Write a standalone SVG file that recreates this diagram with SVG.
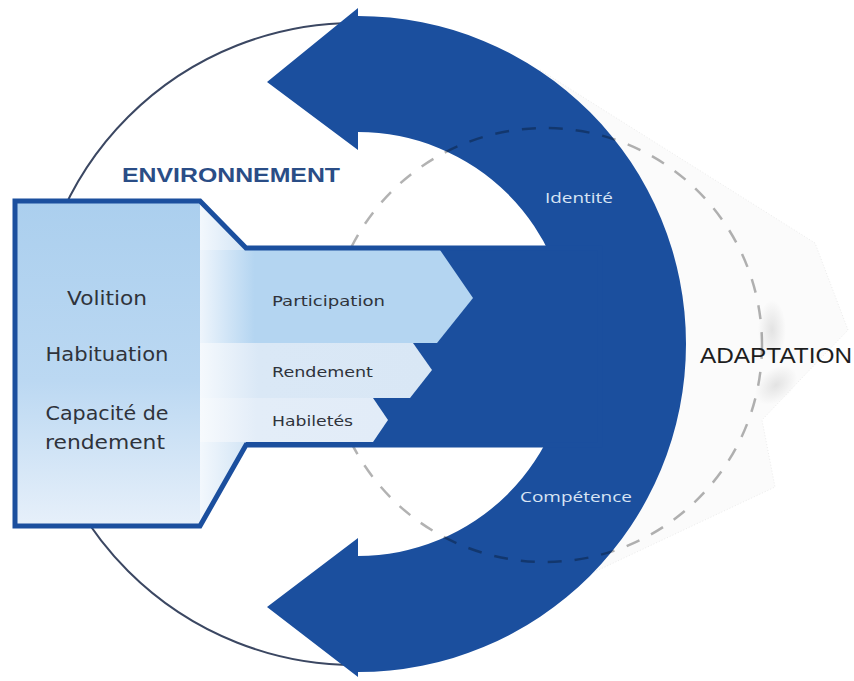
<svg xmlns="http://www.w3.org/2000/svg" width="854" height="681" viewBox="0 0 854 681">
  <defs>
    <style>
      .ring { fill: none; stroke: #3b4762; stroke-width: 2; }
      .band { fill: #1b4f9e; }
      .dash { fill: none; stroke: rgba(0,0,0,0.3); stroke-width: 2.5; stroke-dasharray: 14 13; }
      .frame { fill: none; stroke: #1b4f9e; stroke-width: 5; stroke-linejoin: miter; }
      .lbl { font-family: "DejaVu Sans", "Liberation Sans", sans-serif; fill: #2f333b; }
      .big { font-size: 20px; text-anchor: middle; }
      .small { font-size: 14.5px; }
      .onblue { font-family: "Open Sans", "Liberation Sans", sans-serif; font-size: 14.5px; fill: #d8e4f4; }
      .title { font-family: "Liberation Sans", sans-serif; font-weight: bold; font-size: 21px; fill: #2a4d86; }
      .adapt { font-family: "Liberation Sans", sans-serif; font-size: 22px; fill: #1e1e1e; }
    </style>
    <linearGradient id="boxGrad" x1="0" y1="201" x2="0" y2="526" gradientUnits="userSpaceOnUse">
      <stop offset="0" stop-color="#abcfee"/>
      <stop offset="0.55" stop-color="#bbd8f2"/>
      <stop offset="1" stop-color="#e7f0fa"/>
    </linearGradient>
    <linearGradient id="neckGrad" x1="200" y1="0" x2="246" y2="0" gradientUnits="userSpaceOnUse">
      <stop offset="0" stop-color="#f3f8fd"/>
      <stop offset="1" stop-color="#d3e5f5"/>
    </linearGradient>
    <linearGradient id="partGrad" x1="200" y1="0" x2="473" y2="0" gradientUnits="userSpaceOnUse">
      <stop offset="0" stop-color="#eef5fc"/>
      <stop offset="0.2" stop-color="#b4d5f1"/>
      <stop offset="1" stop-color="#b4d5f1"/>
    </linearGradient>
    <linearGradient id="rendGrad" x1="200" y1="0" x2="432" y2="0" gradientUnits="userSpaceOnUse">
      <stop offset="0" stop-color="#f5f9fd"/>
      <stop offset="0.25" stop-color="#dae8f6"/>
      <stop offset="1" stop-color="#d9e7f5"/>
    </linearGradient>
    <linearGradient id="habGrad" x1="200" y1="0" x2="388" y2="0" gradientUnits="userSpaceOnUse">
      <stop offset="0" stop-color="#f7fafd"/>
      <stop offset="0.3" stop-color="#e3edf8"/>
      <stop offset="1" stop-color="#e2ecf8"/>
    </linearGradient>
    <radialGradient id="smudge">
      <stop offset="0" stop-color="#cfcfcf" stop-opacity="0.55"/>
      <stop offset="1" stop-color="#cfcfcf" stop-opacity="0"/>
    </radialGradient>
  </defs>

  <!-- thin environment ring -->
  <circle class="ring" cx="355" cy="344" r="321"/>

  <!-- faint adaptation zone -->
  <g id="adaptation-zone">
    <path d="M540,70 L815,243 L848,330 L800,380 L762,420 L775,487 L592,573 L620,344 Z" fill="#fbfbfb" stroke="#ececec" stroke-width="1" stroke-dasharray="1 2"/>
    <ellipse cx="772" cy="330" rx="14" ry="30" fill="url(#smudge)"/>
    <ellipse cx="776" cy="385" rx="24" ry="16" fill="url(#smudge)" transform="rotate(-40 776 385)"/>
  </g>

  <!-- double-headed curved arrow -->
  <g id="cycle">
    <path class="band" d="M358,16 A328,328 0 0 1 358,672 L358,677 L267,607 L358,538 L358,556 A212,212 0 0 0 358,132 L358,150 L267,82 L358,8 Z"/>
  </g>

  <!-- adaptation boundary -->
  <circle class="dash" cx="545" cy="345" r="217"/>

  <g id="occupation">
    <rect class="band" x="246" y="248" width="354" height="197"/>
    <rect x="15" y="201" width="185" height="325" fill="url(#boxGrad)"/>
    <path d="M200,201 L246,248 L246,445 L200,526 Z" fill="url(#neckGrad)"/>
  </g>

  <g id="participation">
    <path d="M200,250 H440 L473,298 L437,343 H200 Z" fill="url(#partGrad)"/>
  </g>
  <g id="rendement">
    <path d="M200,343 H413 L432,370 L410,398 H200 Z" fill="url(#rendGrad)"/>
  </g>
  <g id="habiletes">
    <path d="M200,398 H373 L388,420 L373,442 H200 Z" fill="url(#habGrad)"/>
  </g>

  <path class="frame" d="M15,201 H200 L246,248 H600 V445 H246 L200,526 H15 Z"/>

  <!-- labels -->
  <text class="title" x="122" y="182" textLength="218" lengthAdjust="spacingAndGlyphs">ENVIRONNEMENT</text>

  <text class="lbl big" x="107" y="305" textLength="80" lengthAdjust="spacingAndGlyphs">Volition</text>
  <text class="lbl big" x="107" y="361" textLength="123" lengthAdjust="spacingAndGlyphs">Habituation</text>
  <text class="lbl big" x="107" y="420" textLength="123" lengthAdjust="spacingAndGlyphs">Capacité de</text>
  <text class="lbl big" x="105" y="449" textLength="120" lengthAdjust="spacingAndGlyphs">rendement</text>

  <text class="lbl small" x="272" y="306" textLength="113" lengthAdjust="spacingAndGlyphs">Participation</text>
  <text class="lbl small" x="272" y="377" textLength="101" lengthAdjust="spacingAndGlyphs">Rendement</text>
  <text class="lbl small" x="272" y="426" textLength="81" lengthAdjust="spacingAndGlyphs">Habiletés</text>

  <text class="onblue" x="545" y="203" textLength="68" lengthAdjust="spacingAndGlyphs">Identité</text>
  <text class="onblue" x="520" y="502" textLength="112" lengthAdjust="spacingAndGlyphs">Compétence</text>

  <text class="adapt" x="700" y="363" textLength="152" lengthAdjust="spacingAndGlyphs">ADAPTATION</text>
</svg>
